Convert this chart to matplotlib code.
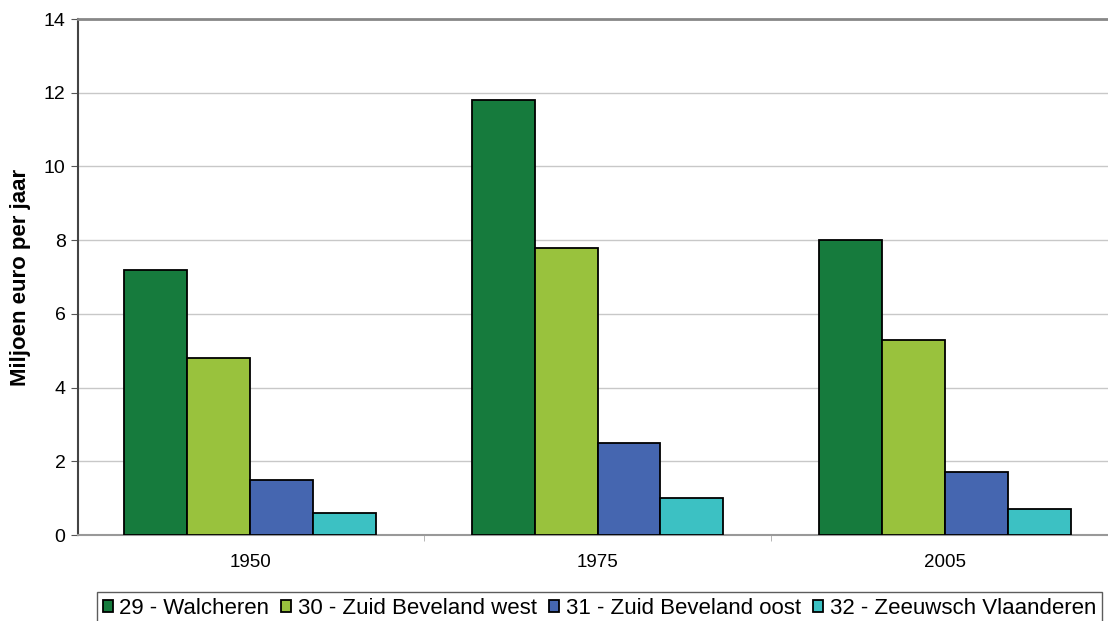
import numpy as np
import matplotlib.pyplot as plt

plt.rcParams['font.family'] = ['Liberation Sans', 'DejaVu Sans']

years = ['1950', '1975', '2005']
series = ['29 - Walcheren', '30 - Zuid Beveland west',
          '31 - Zuid Beveland oost', '32 - Zeeuwsch Vlaanderen']
walcheren = [7.2, 11.8, 8.0]
zb_west = [4.8, 7.8, 5.3]
zb_oost = [1.5, 2.5, 1.7]
zv = [0.6, 1.0, 0.7]
colors = ['#167b3d', '#99c23d', '#4566b0', '#3cc1c3']

W, H = 1108, 621
fig = plt.figure(figsize=(W / 100, H / 100), dpi=100)
ax = fig.add_axes([78 / W, (H - 535) / H, (1108 - 78) / W, (535 - 19) / H])

x = np.arange(len(years))
w = 0.181
for i, (vals, c, lab) in enumerate(zip([walcheren, zb_west, zb_oost, zv], colors, series)):
    ax.bar(x + (i - 1.5) * w, vals, w, color=c, edgecolor='black',
           linewidth=1.3, label=lab, zorder=3)

ax.set_xlim(-0.495, 2.469)
ax.set_ylim(0, 14)
ax.set_yticks(range(0, 15, 2))
ax.set_xticks(x)
ax.set_xticklabels(years, fontsize=13.5)
ax.set_xticks([0.5, 1.5], minor=True)
ax.tick_params(axis='x', which='major', length=0, pad=14)
ax.tick_params(axis='x', which='minor', length=4, color='#aaaaaa')
ax.tick_params(axis='y', labelsize=14, length=5, color='#555555', pad=4)
ax.grid(axis='y', color='#c8c8c8', linewidth=1, zorder=0)
ax.set_axisbelow(True)

ax.spines['right'].set_visible(False)
ax.spines['top'].set_color('#888888')
ax.spines['top'].set_linewidth(2)
ax.spines['left'].set_color('#444444')
ax.spines['left'].set_linewidth(1.5)
ax.spines['bottom'].set_color('#999999')
ax.spines['bottom'].set_linewidth(1.5)

ax.set_ylabel('Miljoen euro per jaar', fontsize=16, fontweight='bold', labelpad=9)

leg = fig.legend(loc='upper left', bbox_to_anchor=(97 / W, (H - 592) / H),
                 ncol=4, fontsize=16, frameon=True, fancybox=False,
                 handlelength=0.45, handleheight=0.45, handletextpad=0.3,
                 columnspacing=0.55, borderpad=0.25, borderaxespad=0)
leg.get_frame().set_edgecolor('#333333')
leg.get_frame().set_linewidth(1)

fig.savefig('out.png', dpi=100)
